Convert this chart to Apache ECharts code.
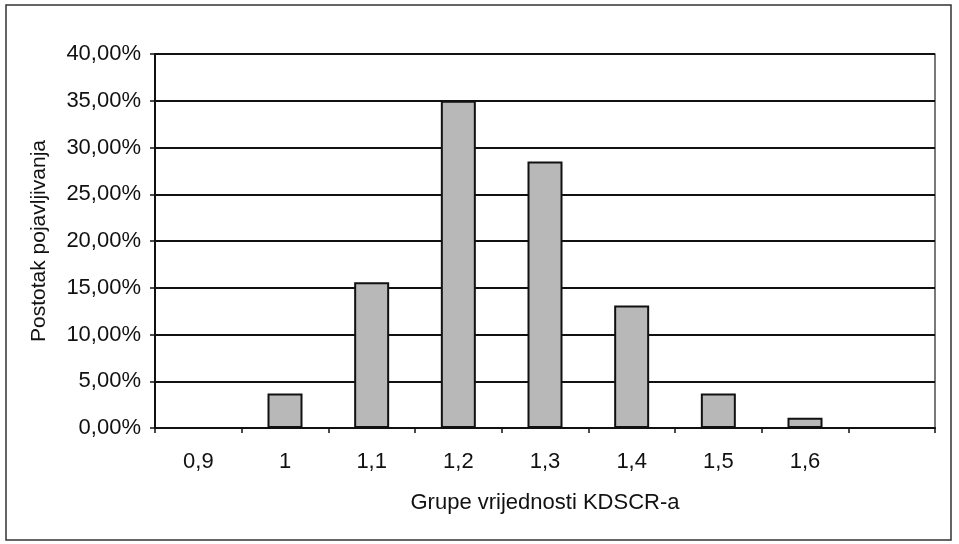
<!DOCTYPE html>
<html>
<head>
<meta charset="utf-8">
<script src="https://cdn.jsdelivr.net/npm/echarts@6/dist/echarts.min.js"></script>
<style>
  html, body { margin: 0; padding: 0; background: #fff; }
  #chart { width: 959px; height: 544px; }
</style>
</head>
<body>
<div id="chart"></div>
<script>
// KDSCR value groups and share of occurrences (%)
const categories = ['0,9', '1', '1,1', '1,2', '1,3', '1,4', '1,5', '1,6', ''];
const shares = [0, 3.7, 15.6, 35.0, 28.5, 13.1, 3.7, 1.1, null];
const yTicks = [0, 5, 10, 15, 20, 25, 30, 35, 40];

const font = '"Liberation Sans", Arial, sans-serif';
const ink = '#111';

const chart = echarts.init(document.getElementById('chart'), null, { renderer: 'canvas' });

chart.setOption({
  backgroundColor: '#fff',
  animation: false,
  graphic: [{
    type: 'rect',
    shape: { x: 6, y: 5, width: 945, height: 535 },
    style: { fill: 'none', stroke: '#333', lineWidth: 1.5 },
    z: -1
  }],
  grid: {
    left: 155, right: 24, top: 54, bottom: 116,
    show: true, borderColor: '#222', borderWidth: 1.2
  },
  xAxis: {
    type: 'category',
    data: categories,
    boundaryGap: true,
    axisLine: { lineStyle: { color: ink, width: 2 } },
    axisTick: { show: true, length: 5, inside: false, lineStyle: { color: ink, width: 1.5 } },
    axisLabel: { color: ink, fontFamily: font, fontSize: 22, margin: 23 },
    name: 'Grupe vrijednosti KDSCR-a',
    nameLocation: 'middle',
    nameGap: 64,
    nameTextStyle: { color: ink, fontFamily: font, fontSize: 22 }
  },
  yAxis: {
    type: 'value',
    min: yTicks[0],
    max: yTicks[yTicks.length - 1],
    interval: 5,
    axisLine: { show: true, lineStyle: { color: ink, width: 2 } },
    axisTick: { show: true, length: 5, inside: false, lineStyle: { color: ink, width: 1.5 } },
    splitLine: { show: true, lineStyle: { color: ink, width: 1.8 } },
    axisLabel: {
      color: ink, fontFamily: font, fontSize: 22, margin: 14,
      formatter: v => v.toFixed(2).replace('.', ',') + '%'
    },
    name: 'Postotak pojavljivanja',
    nameLocation: 'middle',
    nameGap: 105,
    nameTextStyle: { color: ink, fontFamily: font, fontSize: 21 }
  },
  series: [{
    type: 'bar',
    data: shares,
    barWidth: 35,
    itemStyle: { color: '#b8b8b8', borderColor: ink, borderWidth: 2 }
  }]
});
</script>
</body>
</html>
